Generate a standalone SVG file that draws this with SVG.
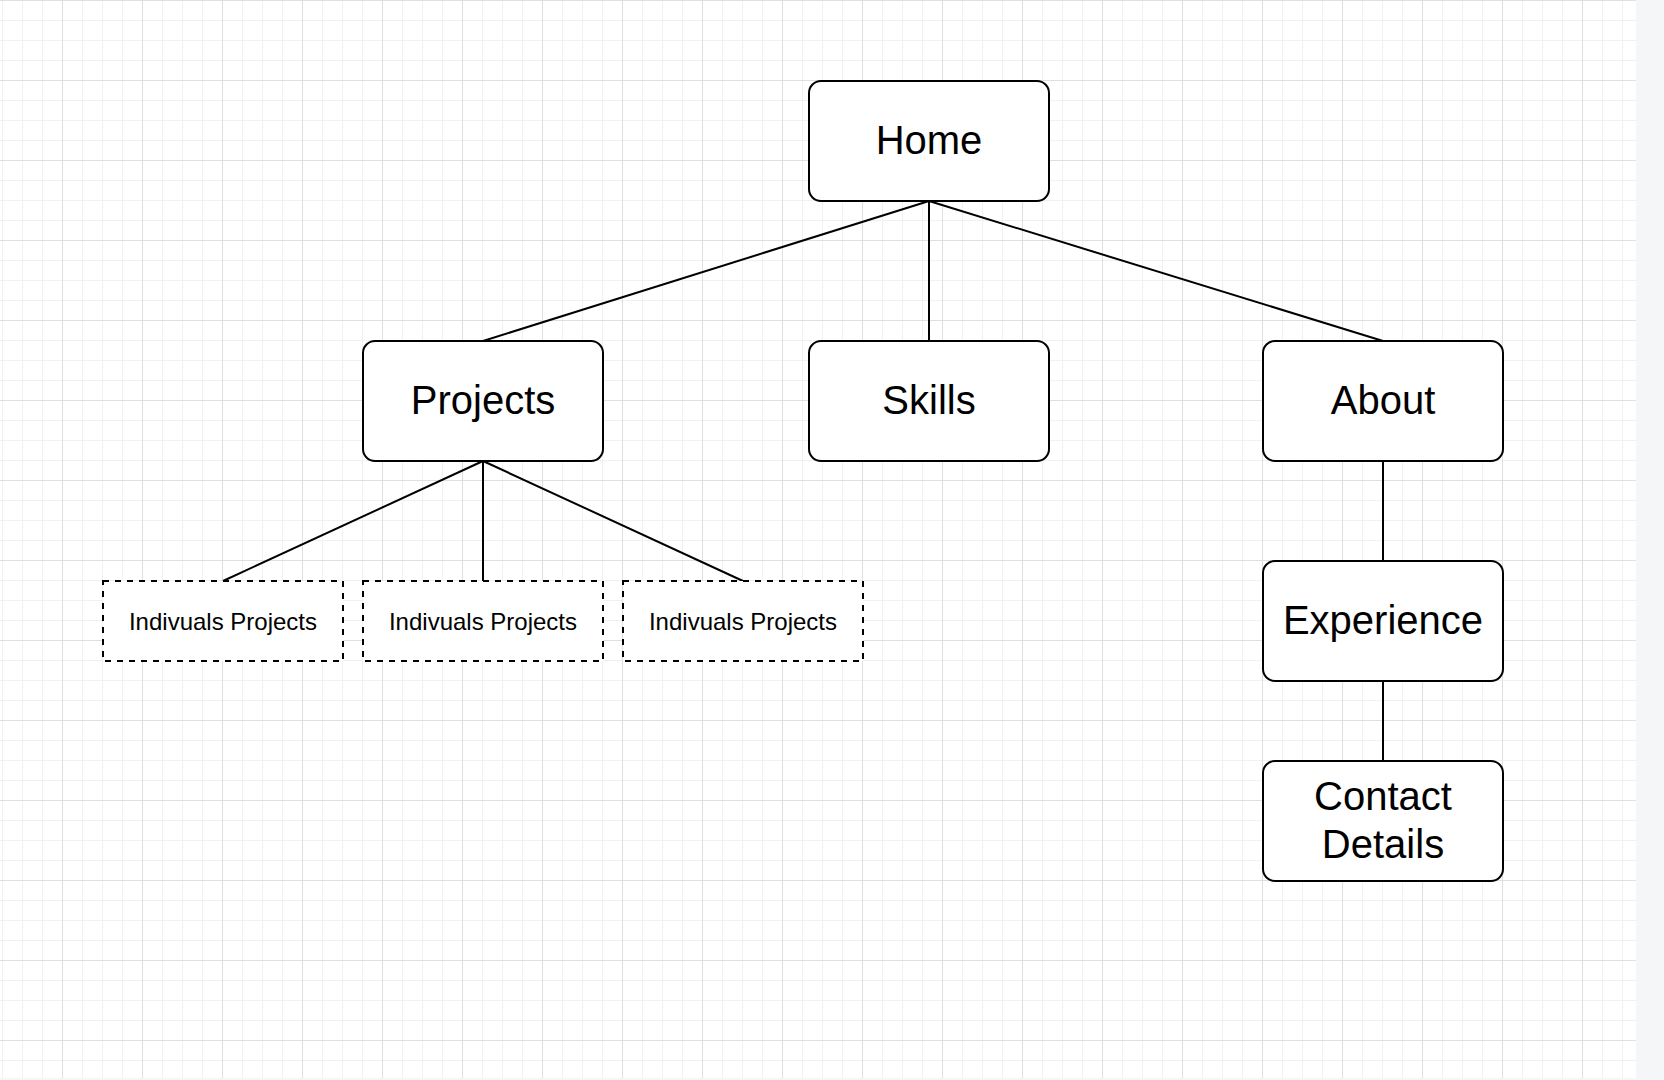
<svg xmlns="http://www.w3.org/2000/svg" width="1664" height="1080" viewBox="0 0 1664 1080">
  <defs>
    <pattern id="minor" patternUnits="userSpaceOnUse" x="2" y="0" width="20" height="20">
      <path d="M0 0.5 H20 M0.5 0 V20" fill="none" stroke="#f1f1f1" stroke-width="1"/>
    </pattern>
    <pattern id="major" patternUnits="userSpaceOnUse" x="62" y="0" width="80" height="80">
      <path d="M0 0.5 H80 M0.5 0 V80" fill="none" stroke="#dfdfdf" stroke-width="1"/>
    </pattern>
    <style>
      .node { fill: #ffffff; stroke: #000000; stroke-width: 2; }
      .dashed { fill: #ffffff; stroke: #000000; stroke-width: 2; stroke-dasharray: 6 6; }
      .big { font-family: "Liberation Sans", Arial, Helvetica, sans-serif; font-size: 40px; fill: #000000; text-anchor: middle; }
      .small { font-family: "Liberation Sans", Arial, Helvetica, sans-serif; font-size: 24px; fill: #000000; text-anchor: middle; }
      .edge { fill: none; stroke: #000000; stroke-width: 2; }
    </style>
  </defs>

  <rect x="0" y="0" width="1664" height="1080" fill="#f5f6f7"/>
  <rect x="0" y="0" width="1636" height="1078" fill="#ffffff"/>
  <rect x="0" y="0" width="1636" height="1078" fill="url(#minor)"/>
  <rect x="0" y="0" width="1636" height="1078" fill="url(#major)"/>

  <g id="connectors">
    <path class="edge" d="M929 201 L483 341"/>
    <path class="edge" d="M929 201 L929 341"/>
    <path class="edge" d="M929 201 L1383 341"/>
    <path class="edge" d="M483 461 L223 581"/>
    <path class="edge" d="M483 461 L483 581"/>
    <path class="edge" d="M483 461 L743 581"/>
    <path class="edge" d="M1383 461 L1383 561"/>
    <path class="edge" d="M1383 681 L1383 761"/>
  </g>

  <g id="home">
    <rect class="node" x="809" y="81" width="240" height="120" rx="12" ry="12"/>
    <text class="big" x="929" y="153.5">Home</text>
  </g>
  <g id="projects">
    <rect class="node" x="363" y="341" width="240" height="120" rx="12" ry="12"/>
    <text class="big" x="483" y="413.5">Projects</text>
  </g>
  <g id="skills">
    <rect class="node" x="809" y="341" width="240" height="120" rx="12" ry="12"/>
    <text class="big" x="929" y="413.5">Skills</text>
  </g>
  <g id="about">
    <rect class="node" x="1263" y="341" width="240" height="120" rx="12" ry="12"/>
    <text class="big" x="1383" y="413.5">About</text>
  </g>
  <g id="experience">
    <rect class="node" x="1263" y="561" width="240" height="120" rx="12" ry="12"/>
    <text class="big" x="1383" y="633.5">Experience</text>
  </g>
  <g id="contact-details">
    <rect class="node" x="1263" y="761" width="240" height="120" rx="12" ry="12"/>
    <text class="big" x="1383" y="810">Contact</text>
    <text class="big" x="1383" y="858">Details</text>
  </g>

  <g id="individual-projects-1">
    <rect class="dashed" x="103" y="581" width="240" height="80"/>
    <text class="small" x="223" y="630">Indivuals Projects</text>
  </g>
  <g id="individual-projects-2">
    <rect class="dashed" x="363" y="581" width="240" height="80"/>
    <text class="small" x="483" y="630">Indivuals Projects</text>
  </g>
  <g id="individual-projects-3">
    <rect class="dashed" x="623" y="581" width="240" height="80"/>
    <text class="small" x="743" y="630">Indivuals Projects</text>
  </g>
</svg>
